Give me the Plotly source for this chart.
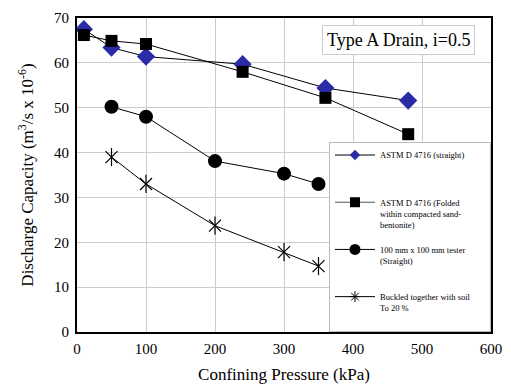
import plotly.graph_objects as go

# Data
x_astm = [10, 50, 100, 240, 360, 480]
y_astm = [67.5, 63.4, 61.4, 59.7, 54.4, 51.6]
x_fold = [10, 50, 100, 240, 360, 480]
y_fold = [66.2, 64.9, 64.2, 58.0, 52.2, 44.1]
x_tester = [50, 100, 200, 300, 350]
y_tester = [50.2, 48.0, 38.1, 35.3, 33.0]
x_buck = [50, 100, 200, 300, 350]
y_buck = [39.0, 33.0, 23.7, 17.8, 14.7]

NB = "&#160;" * 7
names = [
    "ASTM D 4716 (straight)<br> <br> <br> ",
    "ASTM D 4716 (Folded<br>within compacted sand-<br>bentonite)<br> ",
    "100 mm x 100 mm tester<br>(Straight)<br> <br> ",
    "Buckled together with soil" + NB + "<br>To 20 %<br> ",
]

SERIF = "Liberation Serif, serif"
BLUE = "#2b2ba8"

fig = go.Figure()
fig.add_trace(go.Scatter(x=x_astm, y=y_astm, mode="lines+markers", showlegend=False,
                         line=dict(color="black", width=1),
                         marker=dict(symbol="diamond", size=14, color=BLUE)))
fig.add_trace(go.Scatter(x=x_fold, y=y_fold, mode="lines+markers", showlegend=False,
                         line=dict(color="black", width=1),
                         marker=dict(symbol="square", size=12, color="black")))
fig.add_trace(go.Scatter(x=x_tester, y=y_tester, mode="lines+markers", showlegend=False,
                         line=dict(color="black", width=1),
                         marker=dict(symbol="circle", size=14, color="black")))
fig.add_trace(go.Scatter(x=x_buck, y=y_buck, mode="lines+markers", showlegend=False,
                         line=dict(color="black", width=1),
                         marker=dict(symbol="x-thin-open", size=12, color="black",
                                     line=dict(width=1.2, color="black"))))
fig.add_trace(go.Scatter(x=x_buck, y=y_buck, mode="markers", showlegend=False,
                         marker=dict(symbol="line-ns-open", size=13, color="black",
                                     line=dict(width=1.2, color="black")),
                         hoverinfo="skip"))

leg_specs = [
    (names[0], dict(symbol="diamond", size=8, color=BLUE), "black"),
    (names[1], dict(symbol="square", size=10, color="black"), "#555555"),
    (names[2], dict(symbol="circle", size=11, color="black"), "black"),
    (names[3], dict(symbol="asterisk-open", size=9, color="black", line=dict(width=1, color="black")), "black"),
]
for i, (nm, mk, lc) in enumerate(leg_specs):
    fig.add_trace(go.Scatter(x=[None], y=[None], mode="lines+markers", name=nm,
                             line=dict(color=lc, width=1), marker=mk, legendgroup=str(i)))

fig.update_layout(
    width=511, height=384,
    margin=dict(l=77, r=20, t=18, b=52, autoexpand=False),
    paper_bgcolor="white", plot_bgcolor="white",
    font=dict(family=SERIF, color="black", size=15),
    xaxis=dict(range=[0, 600], dtick=100, showgrid=True, gridcolor="#cccccc", gridwidth=1,
               showline=True, linecolor="black", linewidth=2, mirror=True, automargin=False,
               zeroline=False, ticks="", tickfont=dict(size=15, family=SERIF), ticklabelstandoff=2,
               title=dict(text="Confining Pressure (kPa)", font=dict(size=17, family=SERIF))),
    yaxis=dict(range=[0, 70], dtick=10, showgrid=True, gridcolor="#cccccc", gridwidth=1,
               showline=True, linecolor="black", linewidth=2, mirror=True, automargin=False,
               zeroline=False, ticks="", tickfont=dict(size=15, family=SERIF), ticklabelstandoff=3,
               title=dict(text="Discharge Capacity (m<sup>3</sup>/s x 10<sup>-6</sup>)",
                          font=dict(size=17, family=SERIF), standoff=16)),
    legend=dict(x=1, y=0, xanchor="right", yanchor="bottom",
                bgcolor="white", bordercolor="#bbbbbb", borderwidth=1,
                font=dict(size=8.5, family=SERIF), itemwidth=40,
                tracegroupgap=0, valign="top"),
    showlegend=True,
)

fig.add_annotation(x=0.961, y=0.977, xref="paper", yref="paper", xanchor="right", yanchor="top",
                   text="Type A Drain, i=0.5", showarrow=False,
                   font=dict(size=18, family=SERIF, color="black"),
                   bgcolor="white", bordercolor="#cccccc", borderwidth=1, borderpad=4)

fig.write_html("out.html", config={"displayModeBar": False},
               post_script="document.body.style.margin='0';document.body.style.overflow='hidden';")
